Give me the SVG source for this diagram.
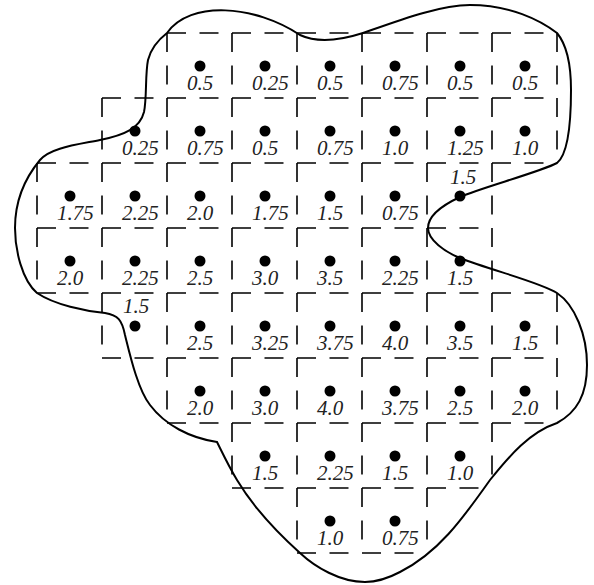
<svg xmlns="http://www.w3.org/2000/svg" width="594" height="585" viewBox="0 0 594 585">
<style>
.grid{stroke:#000;stroke-width:1.6;stroke-dasharray:19 13.5;fill:none}
.blob{stroke:#000;stroke-width:2;fill:none}
.dot{fill:#000}
.lbl{font-family:"Liberation Serif","Times New Roman",serif;font-style:italic;font-size:21px;fill:#222}
</style>
<rect width="594" height="585" fill="#fff"/>
<g id="connectors">
<path class="grid" d="M167,33H557M102,98H557M37,163H557M37,228H492M37,293H557M102,358H557M167,423H557M232,488H492M297,553H427"/>
<path class="grid" d="M37,163V293M102,98V358M167,33V423M232,33V488M297,33V553M362,33V553M427,33V553M492,33V488M557,33V163M557,293V423"/>
<path id="boundary" class="blob" d="M167,33 C190,0 255,5 300,35 C315,42 335,42 363,33 C400,20 440,5 470,5 C510,5 540,20 557,33 C567,45 571,65 571,90 C571,125 567,155 557,163 C540,172 480,188 460,197 C445,204 428,215 428,228 C428,240 445,252 460,258 C490,270 540,282 557,293 C575,305 587,335 587,365 C587,395 577,412 557,423 C530,432 510,455 490,480 C465,515 440,552 400,572 C385,580 375,582 365,582 C340,582 315,567 300,553 C280,535 255,510 237,480 C228,465 222,452 217,442 C190,438 165,425 150,405 C138,390 130,355 125,335 C122,320 118,315 105,313 C85,311 55,305 37,293 C22,280 15,250 15,228 C15,200 25,178 40,160 C50,148 75,145 100,140 C125,135 140,128 144,112 C147,98 145,75 148,60 C151,48 158,40 167,33 Z"/>
</g>
<g id="r0c2"><circle class="dot" cx="200" cy="66" r="5.5"/><text class="lbl" x="187" y="90">0.5</text></g>
<g id="r0c3"><circle class="dot" cx="265" cy="66" r="5.5"/><text class="lbl" x="252" y="90">0.25</text></g>
<g id="r0c4"><circle class="dot" cx="330" cy="66" r="5.5"/><text class="lbl" x="317" y="90">0.5</text></g>
<g id="r0c5"><circle class="dot" cx="395" cy="66" r="5.5"/><text class="lbl" x="382" y="90">0.75</text></g>
<g id="r0c6"><circle class="dot" cx="460" cy="66" r="5.5"/><text class="lbl" x="447" y="90">0.5</text></g>
<g id="r0c7"><circle class="dot" cx="525" cy="66" r="5.5"/><text class="lbl" x="512" y="90">0.5</text></g>
<g id="r1c1"><circle class="dot" cx="135" cy="131" r="5.5"/><text class="lbl" x="122" y="155">0.25</text></g>
<g id="r1c2"><circle class="dot" cx="200" cy="131" r="5.5"/><text class="lbl" x="187" y="155">0.75</text></g>
<g id="r1c3"><circle class="dot" cx="265" cy="131" r="5.5"/><text class="lbl" x="252" y="155">0.5</text></g>
<g id="r1c4"><circle class="dot" cx="330" cy="131" r="5.5"/><text class="lbl" x="317" y="155">0.75</text></g>
<g id="r1c5"><circle class="dot" cx="395" cy="131" r="5.5"/><text class="lbl" x="382" y="155">1.0</text></g>
<g id="r1c6"><circle class="dot" cx="460" cy="131" r="5.5"/><text class="lbl" x="447" y="155">1.25</text></g>
<g id="r1c7"><circle class="dot" cx="525" cy="131" r="5.5"/><text class="lbl" x="512" y="155">1.0</text></g>
<g id="r2c0"><circle class="dot" cx="70" cy="196" r="5.5"/><text class="lbl" x="57" y="220">1.75</text></g>
<g id="r2c1"><circle class="dot" cx="135" cy="196" r="5.5"/><text class="lbl" x="122" y="220">2.25</text></g>
<g id="r2c2"><circle class="dot" cx="200" cy="196" r="5.5"/><text class="lbl" x="187" y="220">2.0</text></g>
<g id="r2c3"><circle class="dot" cx="265" cy="196" r="5.5"/><text class="lbl" x="252" y="220">1.75</text></g>
<g id="r2c4"><circle class="dot" cx="330" cy="196" r="5.5"/><text class="lbl" x="317" y="220">1.5</text></g>
<g id="r2c5"><circle class="dot" cx="395" cy="196" r="5.5"/><text class="lbl" x="382" y="220">0.75</text></g>
<g id="r2c6"><circle class="dot" cx="460" cy="196" r="5.5"/><text class="lbl" x="450" y="184">1.5</text></g>
<g id="r3c0"><circle class="dot" cx="70" cy="261" r="5.5"/><text class="lbl" x="57" y="285">2.0</text></g>
<g id="r3c1"><circle class="dot" cx="135" cy="261" r="5.5"/><text class="lbl" x="122" y="285">2.25</text></g>
<g id="r3c2"><circle class="dot" cx="200" cy="261" r="5.5"/><text class="lbl" x="187" y="285">2.5</text></g>
<g id="r3c3"><circle class="dot" cx="265" cy="261" r="5.5"/><text class="lbl" x="252" y="285">3.0</text></g>
<g id="r3c4"><circle class="dot" cx="330" cy="261" r="5.5"/><text class="lbl" x="317" y="285">3.5</text></g>
<g id="r3c5"><circle class="dot" cx="395" cy="261" r="5.5"/><text class="lbl" x="382" y="285">2.25</text></g>
<g id="r3c6"><circle class="dot" cx="460" cy="261" r="5.5"/><text class="lbl" x="447" y="285">1.5</text></g>
<g id="r4c1"><circle class="dot" cx="135" cy="326" r="5.5"/><text class="lbl" x="123" y="313">1.5</text></g>
<g id="r4c2"><circle class="dot" cx="200" cy="326" r="5.5"/><text class="lbl" x="187" y="350">2.5</text></g>
<g id="r4c3"><circle class="dot" cx="265" cy="326" r="5.5"/><text class="lbl" x="252" y="350">3.25</text></g>
<g id="r4c4"><circle class="dot" cx="330" cy="326" r="5.5"/><text class="lbl" x="317" y="350">3.75</text></g>
<g id="r4c5"><circle class="dot" cx="395" cy="326" r="5.5"/><text class="lbl" x="382" y="350">4.0</text></g>
<g id="r4c6"><circle class="dot" cx="460" cy="326" r="5.5"/><text class="lbl" x="447" y="350">3.5</text></g>
<g id="r4c7"><circle class="dot" cx="525" cy="326" r="5.5"/><text class="lbl" x="512" y="350">1.5</text></g>
<g id="r5c2"><circle class="dot" cx="200" cy="391" r="5.5"/><text class="lbl" x="187" y="415">2.0</text></g>
<g id="r5c3"><circle class="dot" cx="265" cy="391" r="5.5"/><text class="lbl" x="252" y="415">3.0</text></g>
<g id="r5c4"><circle class="dot" cx="330" cy="391" r="5.5"/><text class="lbl" x="317" y="415">4.0</text></g>
<g id="r5c5"><circle class="dot" cx="395" cy="391" r="5.5"/><text class="lbl" x="382" y="415">3.75</text></g>
<g id="r5c6"><circle class="dot" cx="460" cy="391" r="5.5"/><text class="lbl" x="447" y="415">2.5</text></g>
<g id="r5c7"><circle class="dot" cx="525" cy="391" r="5.5"/><text class="lbl" x="512" y="415">2.0</text></g>
<g id="r6c3"><circle class="dot" cx="265" cy="456" r="5.5"/><text class="lbl" x="252" y="480">1.5</text></g>
<g id="r6c4"><circle class="dot" cx="330" cy="456" r="5.5"/><text class="lbl" x="317" y="480">2.25</text></g>
<g id="r6c5"><circle class="dot" cx="395" cy="456" r="5.5"/><text class="lbl" x="382" y="480">1.5</text></g>
<g id="r6c6"><circle class="dot" cx="460" cy="456" r="5.5"/><text class="lbl" x="447" y="480">1.0</text></g>
<g id="r7c4"><circle class="dot" cx="330" cy="521" r="5.5"/><text class="lbl" x="317" y="545">1.0</text></g>
<g id="r7c5"><circle class="dot" cx="395" cy="521" r="5.5"/><text class="lbl" x="382" y="545">0.75</text></g>
</svg>
